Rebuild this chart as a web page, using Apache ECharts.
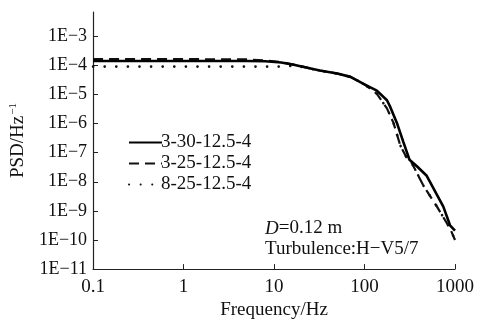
<!DOCTYPE html>
<html>
<head>
<meta charset="utf-8">
<script src="https://cdn.jsdelivr.net/npm/echarts@6/dist/echarts.min.js"></script>
<style>html,body{margin:0;padding:0;background:#fff;}#c{width:482px;height:325px;}</style>
</head>
<body>
<div id="c"></div>
<script>
var seriesNames = ['3-30-12.5-4', '3-25-12.5-4', '8-25-12.5-4'];
var freqA = [0.1, 1, 5, 8, 12, 16.5, 32, 50, 70, 100, 137, 177, 192, 228, 269, 314, 379, 487, 743, 881, 1000];
var psdA  = [1.4e-4, 1.4e-4, 1.4e-4, 1.38e-4, 1.25e-4, 1.05e-4, 6.6e-5, 5.2e-5, 4.0e-5, 2.2e-5, 1.35e-5, 6.3e-6, 3.8e-6, 1.05e-6, 2.3e-7, 5.7e-8, 3.4e-8, 1.6e-8, 1.4e-9, 3.2e-10, 2.1e-10];
var freqB = [0.1, 1, 5, 8, 12, 16.5, 32, 50, 70, 100, 137, 177, 209, 248, 294, 324, 447, 627, 881, 1000];
var psdB  = [1.62e-4, 1.62e-4, 1.6e-4, 1.45e-4, 1.28e-4, 1.06e-4, 6.6e-5, 5.2e-5, 4.0e-5, 2.2e-5, 1.05e-5, 3.3e-6, 1.05e-6, 1.8e-7, 6.4e-8, 5.2e-8, 7.4e-9, 1.45e-9, 2.5e-10, 1.0e-10];
var freqC = [0.1, 1, 10, 14, 16.5, 32, 50, 70, 100, 137, 177, 209, 248, 294, 324, 447, 627, 881, 1000];
var psdC  = [9e-5, 9e-5, 9e-5, 9e-5, 1.0e-4, 6.6e-5, 5.2e-5, 4.0e-5, 2.2e-5, 1.05e-5, 3.3e-6, 1.05e-6, 1.8e-7, 6.4e-8, 5.2e-8, 7.4e-9, 1.45e-9, 2.5e-10, 1.0e-10];
var yTicks = [1e-11, 1e-10, 1e-9, 1e-8, 1e-7, 1e-6, 1e-5, 1e-4, 1e-3];
var xTicks = [0.1, 1, 10, 100, 1000];

function pairs(xs, ys) { return xs.map(function (x, i) { return [x, ys[i]]; }); }

var FONT = '"Liberation Serif", "Times New Roman", serif';
var chart = echarts.init(document.getElementById('c'), null, {renderer: 'canvas'});
chart.setOption({
  animation: false,
  backgroundColor: '#fff',
  grid: {left: 92, right: 27, top: 12, bottom: 46, containLabel: false},
  xAxis: {
    type: 'log', logBase: 10, min: 0.1, max: 1000,
    name: 'Frequency/Hz', nameLocation: 'middle', nameGap: 25,
    nameTextStyle: {fontFamily: FONT, fontSize: 19, color: '#111'},
    axisLine: {lineStyle: {color: '#222', width: 1.2}},
    axisTick: {inside: true, length: 5, lineStyle: {color: '#222'}, customValues: xTicks},
    axisLabel: {fontFamily: FONT, fontSize: 19, color: '#111', margin: 8, customValues: xTicks,
      formatter: function (v) { return v < 1 ? '0.1' : String(Math.round(v)); }},
    splitLine: {show: false}, minorTick: {show: false}
  },
  yAxis: {
    type: 'log', logBase: 10, min: 1e-11, max: Math.pow(10, -2.17),
    name: 'PSD/Hz{sup|−1}', nameLocation: 'middle', nameGap: 58, nameRotate: 90,
    nameTextStyle: {fontFamily: FONT, fontSize: 19, color: '#111',
      rich: {sup: {fontFamily: FONT, fontSize: 11, color: '#111', padding: [0, 0, 10, 1]}}},
    axisLine: {show: true, lineStyle: {color: '#222', width: 1.2}},
    axisTick: {show: true, inside: true, length: 5, lineStyle: {color: '#222'}, customValues: yTicks},
    axisLabel: {fontFamily: FONT, fontSize: 18, color: '#111', margin: 6, customValues: yTicks,
      formatter: function (v) { return '1E−' + Math.round(-Math.log10(v)); }},
    splitLine: {show: false}, minorTick: {show: false}
  },
  legend: {
    orient: 'vertical', left: 123, top: 128, itemWidth: 33, itemHeight: 12, itemGap: 2,
    itemStyle: {opacity: 0},
    textStyle: {fontFamily: FONT, fontSize: 19, color: '#111', padding: [0, 0, 0, -6]},
    data: seriesNames
  },
  series: [
    {name: seriesNames[1], type: 'line', symbol: 'none', data: pairs(freqB, psdB), z: 2,
      lineStyle: {color: '#111', width: 2.2, type: [10, 6]}, itemStyle: {color: '#111'}},
    {name: seriesNames[2], type: 'line', symbol: 'none', data: pairs(freqC, psdC), z: 1,
      lineStyle: {color: '#111', width: 2.6, type: [0.1, 11.5], cap: 'round'}, itemStyle: {color: '#111'}},
    {name: seriesNames[0], type: 'line', symbol: 'none', data: pairs(freqA, psdA), z: 3,
      lineStyle: {color: '#000', width: 2.6}, itemStyle: {color: '#000'}}
  ],
  graphic: [{
    type: 'text', left: 265, top: 218,
    style: {text: '{i|D}=0.12 m\nTurbulence:H−V5/7', fontFamily: FONT, fontSize: 19, fill: '#111', lineHeight: 21,
      rich: {i: {fontFamily: FONT, fontSize: 19, fontStyle: 'italic', fill: '#111'}}}
  }]
});
</script>
</body>
</html>
